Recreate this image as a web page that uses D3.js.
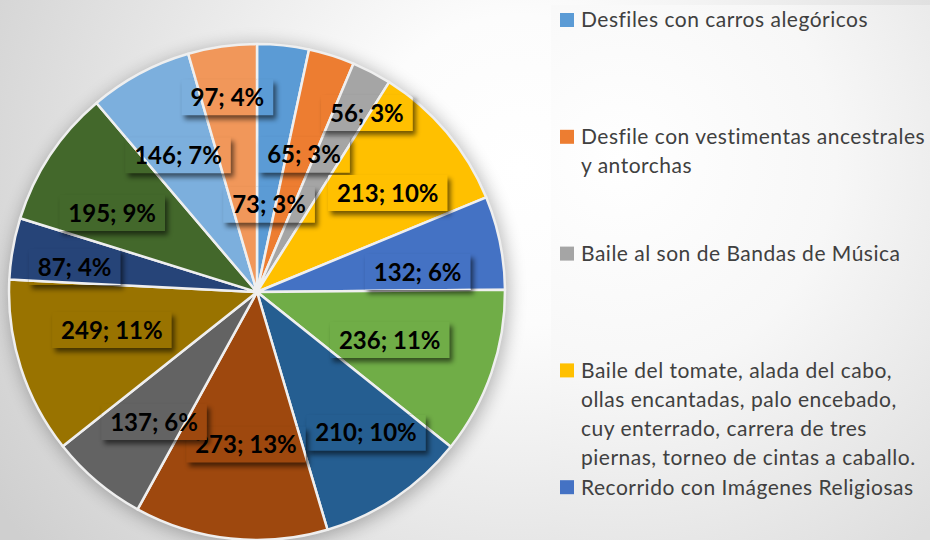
<!DOCTYPE html>
<html>
<head>
<meta charset="utf-8">
<script src="https://cdn.jsdelivr.net/npm/d3@7"></script>
<style>
  html, body { margin: 0; padding: 0; background: #fff; }
  svg { display: block; }
</style>
</head>
<body>
<svg id="chart" width="930" height="540"></svg>
<script>
// ---- data ----
const values = [73, 65, 56, 213, 132, 236, 210, 273, 137, 249, 87, 195, 146, 97];
const colors = ["#5B9BD5", "#ED7D31", "#A5A5A5", "#FFC000", "#4472C4", "#70AD47", "#255E91",
                "#9E480E", "#636363", "#997300", "#264478", "#43682B", "#7CAFDD", "#F1975A"];
const legendLabels = [
  ["Desfiles con carros alegóricos"],
  ["Desfile con vestimentas ancestrales", "y antorchas"],
  ["Baile al son de Bandas de Música"],
  ["Baile del tomate, alada del cabo,", "ollas encantadas, palo encebado,", "cuy enterrado, carrera de tres", "piernas, torneo de cintas a caballo."],
  ["Recorrido con Imágenes Religiosas"]
];
// label placement (best-fit style): angle offset in degrees, radius fraction
const labelAngleShift = [1.8, 1.4, 4.0, 3.0, 4.4, 0.8, -3.8, -2.0, -1.8, 3.1, -2.3, -4.9, -1.8, -0.6];
const labelRadiusFrac = [0.355, 0.585, 0.847, 0.661, 0.653, 0.569, 0.718, 0.617, 0.669, 0.605, 0.742, 0.665, 0.637, 0.794];

// ---- layout ----
const W = 930, H = 540;
const cx = 257, cy = 292, R = 248;
const svg = d3.select("#chart");
const defs = svg.append("defs");

// background gradient
const bg = defs.append("radialGradient").attr("id", "bgGrad")
  .attr("gradientUnits", "userSpaceOnUse")
  .attr("cx", 520).attr("cy", 170).attr("r", 620);
bg.append("stop").attr("offset", "0").attr("stop-color", "#ffffff");
bg.append("stop").attr("offset", "0.25").attr("stop-color", "#fcfcfc");
bg.append("stop").attr("offset", "1").attr("stop-color", "#cfcfcf");
svg.append("rect").attr("width", W).attr("height", H).attr("fill", "url(#bgGrad)");

// legend panel gradient
const lg = defs.append("radialGradient").attr("id", "legGrad")
  .attr("gradientUnits", "userSpaceOnUse")
  .attr("cx", 620).attr("cy", 160).attr("r", 480);
lg.append("stop").attr("offset", "0").attr("stop-color", "#ffffff");
lg.append("stop").attr("offset", "0.45").attr("stop-color", "#f7f7f7");
lg.append("stop").attr("offset", "1").attr("stop-color", "#dedede");
svg.append("rect").attr("x", 551).attr("y", 5).attr("width", W - 551).attr("height", H)
  .attr("fill", "url(#legGrad)");

// pie shadow filter
const f = defs.append("filter").attr("id", "pieShadow")
  .attr("x", "-20%").attr("y", "-20%").attr("width", "140%").attr("height", "140%");
f.append("feGaussianBlur").attr("stdDeviation", 9);
const lf = defs.append("filter").attr("id", "lblShadow")
  .attr("x", "-30%").attr("y", "-50%").attr("width", "160%").attr("height", "200%");
lf.append("feGaussianBlur").attr("stdDeviation", 2.4);

const total = d3.sum(values);
const pie = d3.pie().sort(null).value(d => d)(values);
const arc = d3.arc().innerRadius(0).outerRadius(R);

svg.append("circle").attr("cx", cx + 2).attr("cy", cy + 3).attr("r", R + 2)
  .attr("fill", "#000").attr("opacity", 0.28).attr("filter", "url(#pieShadow)");

const slices = svg.append("g").attr("id", "slices").attr("transform", `translate(${cx},${cy})`);
slices.selectAll("path").data(pie).join("path")
  .attr("d", arc)
  .attr("fill", (d, i) => colors[i])
  .attr("stroke", "#efefef")
  .attr("stroke-width", 2.5)
  .attr("stroke-linejoin", "round");

// labels
const fmtPct = v => Math.round(v / total * 100) + "%";
const lblG = svg.append("g");
pie.forEach((d, i) => {
  const mid = (d.startAngle + d.endAngle) / 2 + labelAngleShift[i] * Math.PI / 180;
  const r = labelRadiusFrac[i] * R;
  const x = cx + r * Math.sin(mid);
  const y = cy - r * Math.cos(mid);
  const txt = `${d.data}; ${fmtPct(d.data)}`;
  const g = lblG.append("g");
  const t = g.append("text").attr("x", x).attr("y", y).attr("dy", "0.36em")
    .attr("text-anchor", "middle")
    .attr("font-family", "Lato, 'Open Sans', sans-serif")
    .attr("font-weight", 700).attr("font-size", 24).attr("fill", "#000")
    .text(txt);
  const w = t.node().getComputedTextLength() + 18;
  const h = 36;
  const bx = x - w / 2, by = y - h / 2;
  // shadow
  g.insert("rect", "text").attr("x", bx + 3).attr("y", by + 4).attr("width", w).attr("height", h)
    .attr("fill", "#000").attr("opacity", 0.55).attr("filter", "url(#lblShadow)");
  // clipped pie redraw (transparent box)
  const cid = "clip" + i;
  defs.append("clipPath").attr("id", cid).append("rect")
    .attr("x", bx).attr("y", by).attr("width", w).attr("height", h);
  g.insert("use", "text").attr("href", "#slices").attr("clip-path", `url(#${cid})`);
});

// legend
const lineH = 29.2;
const slot = lineH * 4;
const leg = svg.append("g");
legendLabels.forEach((lines, i) => {
  const y0 = 20 + i * slot;
  leg.append("rect").attr("x", 560).attr("y", y0 - 7).attr("width", 14).attr("height", 14)
    .attr("fill", colors[i]);
  lines.forEach((ln, j) => {
    leg.append("text").attr("x", 581).attr("y", y0 + j * lineH).attr("dy", "0.35em")
      .attr("font-family", "Lato, 'Open Sans', sans-serif")
      .attr("font-size", 21).attr("letter-spacing", 0.5).attr("fill", "#404040")
      .text(ln);
  });
});
</script>
</body>
</html>
